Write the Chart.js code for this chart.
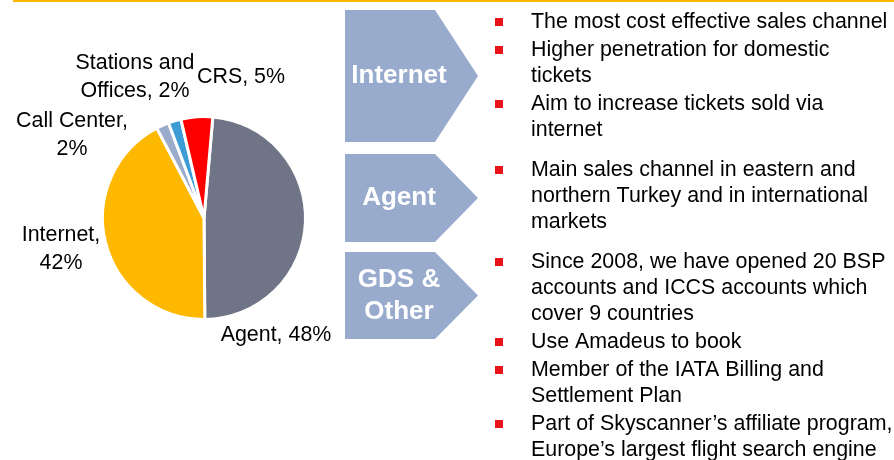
<!DOCTYPE html>
<html lang="en">
<head>
    <meta charset="UTF-8">
    <title>Sales Channels</title>
    <script src="https://cdn.jsdelivr.net/npm/chart.js"></script>
    <style>
        body {
            margin: 0;
            background: #fff;
        }
        #salesChart {
            display: block;
        }
    </style>
</head>
<body>
    <canvas id="salesChart" width="894" height="460"></canvas>

    <script>
        // Share of ticket sales by channel (%)
        const channels = ['Agent', 'Internet', 'Call Center', 'Stations and Offices', 'CRS'];
        const shares = [48, 42, 2, 2, 5];
        const sliceColors = ['#6F7586', '#FFB800', '#9BABCB', '#3C9DD6', '#FF0000'];

        // How each slice label is broken into lines, and where it sits
        const sliceLabels = [
            { lines: ['Agent, 48%'], x: 276, y: 335 },
            { lines: ['Internet,', '42%'], x: 61, y: 235 },
            { lines: ['Call Center,', '2%'], x: 72, y: 121 },
            { lines: ['Stations and', 'Offices, 2%'], x: 135, y: 63 },
            { lines: ['CRS, 5%'], x: 241, y: 77 }
        ];

        // Commentary per channel
        const arrowTitles = [['Internet'], ['Agent'], ['GDS &', 'Other']];
        const internetNotes = [
            ['The most cost effective sales channel'],
            ['Higher penetration for domestic', 'tickets'],
            ['Aim to increase tickets sold via', 'internet']
        ];
        const agentNotes = [
            ['Main sales channel in eastern and', 'northern Turkey and in international', 'markets']
        ];
        const gdsNotes = [
            ['Since 2008, we have opened 20 BSP', 'accounts and ICCS accounts which', 'cover 9 countries'],
            ['Use Amadeus to book'],
            ['Member of the IATA Billing and', 'Settlement Plan'],
            ['Part of Skyscanner\u2019s affiliate program,', 'Europe\u2019s largest flight search engine']
        ];

        const FONT = '"Liberation Sans", Arial, sans-serif';

        // arrow boxes: top, bottom, first bullet line
        const panels = [
            { top: 10, bottom: 142, firstLine: 22, notes: internetNotes },
            { top: 154, bottom: 242, firstLine: 170, notes: agentNotes },
            { top: 252, bottom: 339, firstLine: 262, notes: gdsNotes }
        ];

        const slideDecor = {
            id: 'slideDecor',
            afterDraw(chart) {
                const ctx = chart.ctx;
                ctx.save();

                // header rule
                ctx.fillStyle = '#FFB800';
                ctx.fillRect(13, 0, 881, 2);

                // slice labels
                ctx.fillStyle = '#000';
                ctx.font = '21.4px ' + FONT;
                ctx.textAlign = 'center';
                ctx.textBaseline = 'middle';
                sliceLabels.forEach(lbl => {
                    lbl.lines.forEach((line, i) => {
                        ctx.fillText(line, lbl.x, lbl.y + i * 28);
                    });
                });

                panels.forEach((p, idx) => {
                    const mid = (p.top + p.bottom) / 2;
                    // pentagon arrow
                    ctx.fillStyle = '#98ABCD';
                    ctx.beginPath();
                    ctx.moveTo(345, p.top);
                    ctx.lineTo(435, p.top);
                    ctx.lineTo(478, mid);
                    ctx.lineTo(435, p.bottom);
                    ctx.lineTo(345, p.bottom);
                    ctx.closePath();
                    ctx.fill();

                    ctx.fillStyle = '#fff';
                    ctx.font = 'bold 26px ' + FONT;
                    ctx.textAlign = 'center';
                    const title = arrowTitles[idx];
                    const startY = mid - (title.length - 1) * 16;
                    title.forEach((t, i) => ctx.fillText(t, 399, startY + i * 32));

                    // bullets
                    ctx.font = '21.4px ' + FONT;
                    ctx.textAlign = 'left';
                    let y = p.firstLine;
                    p.notes.forEach((note, n) => {
                        if (n > 0) y += 28;
                        ctx.fillStyle = '#E8141A';
                        ctx.fillRect(495, y - 4, 8, 8);
                        ctx.fillStyle = '#000';
                        note.forEach((line, i) => {
                            if (i > 0) y += 26;
                            ctx.fillText(line, 531, y);
                        });
                    });
                });

                ctx.restore();
            }
        };

        new Chart(document.getElementById('salesChart'), {
            type: 'pie',
            data: {
                labels: channels,
                datasets: [{
                    data: shares,
                    backgroundColor: sliceColors,
                    borderColor: '#fff',
                    borderWidth: 3
                }]
            },
            options: {
                responsive: false,
                animation: false,
                rotation: 5,
                layout: {
                    padding: { left: 101, right: 587, top: 115, bottom: 139 }
                },
                plugins: {
                    legend: { display: false },
                    tooltip: { enabled: false }
                }
            },
            plugins: [slideDecor]
        });
    </script>
</body>
</html>
